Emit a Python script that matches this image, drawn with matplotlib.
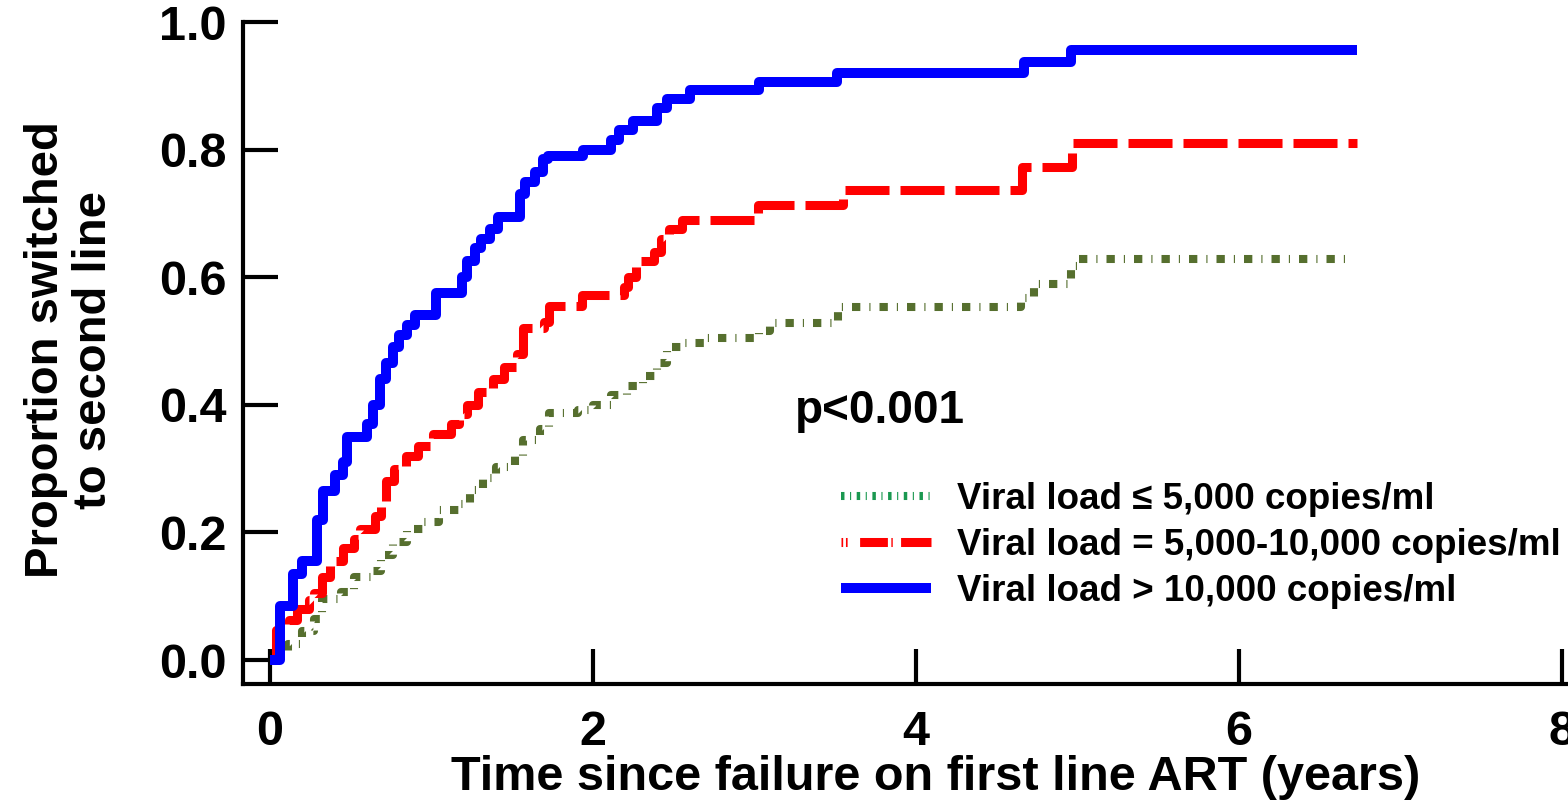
import matplotlib
matplotlib.use("Agg")
import matplotlib.pyplot as plt
from matplotlib.lines import Line2D

plt.rcParams['font.family'] = ['Liberation Sans', 'DejaVu Sans']
plt.rcParams['font.weight'] = 'bold'
plt.rcParams['lines.scale_dashes'] = False

# Kaplan-Meier style cumulative proportion switched (step points)
t_high = [0.0, 0.06, 0.14, 0.20, 0.29, 0.33, 0.40, 0.45, 0.48, 0.60, 0.64, 0.68, 0.72,
          0.76, 0.80, 0.85, 0.90, 1.03, 1.19, 1.22, 1.27, 1.31, 1.36, 1.41, 1.55, 1.58,
          1.64, 1.69, 1.72, 1.94, 2.11, 2.16, 2.25, 2.40, 2.46, 2.60, 3.03, 3.51, 4.67,
          4.96, 6.73]
p_high = [0.0, 0.085, 0.135, 0.155, 0.22, 0.265, 0.29, 0.31, 0.35, 0.37, 0.40, 0.44, 0.465,
          0.49, 0.51, 0.525, 0.54, 0.575, 0.60, 0.625, 0.645, 0.66, 0.675, 0.695, 0.73, 0.75,
          0.765, 0.785, 0.79, 0.80, 0.815, 0.83, 0.845, 0.865, 0.88, 0.893, 0.906, 0.92, 0.937,
          0.956, 0.956]

t_mid = [0.0, 0.04, 0.12, 0.17, 0.24, 0.27, 0.32, 0.37, 0.45, 0.52, 0.56, 0.65, 0.69, 0.72,
         0.77, 0.84, 0.92, 1.01, 1.12, 1.17, 1.22, 1.29, 1.38, 1.45, 1.53, 1.57, 1.70, 1.73,
         1.93, 2.19, 2.22, 2.27, 2.38, 2.42, 2.47, 2.55, 3.02, 3.55, 4.66, 4.97, 6.73]
p_mid = [0.0, 0.047, 0.063, 0.08, 0.094, 0.105, 0.13, 0.155, 0.175, 0.19, 0.205, 0.225, 0.25,
         0.28, 0.30, 0.32, 0.335, 0.355, 0.37, 0.385, 0.40, 0.42, 0.44, 0.46, 0.48, 0.52, 0.53,
         0.555, 0.572, 0.585, 0.60, 0.625, 0.64, 0.66, 0.675, 0.69, 0.713, 0.737, 0.773, 0.81,
         0.81]

t_low = [0.0, 0.05, 0.11, 0.20, 0.27, 0.32, 0.44, 0.52, 0.63, 0.69, 0.76, 0.85, 0.95, 1.05,
         1.18, 1.24, 1.32, 1.40, 1.52, 1.57, 1.67, 1.73, 1.91, 2.00, 2.11, 2.21, 2.31, 2.40,
         2.46, 2.56, 2.70, 3.03, 3.10, 3.52, 4.65, 4.73, 4.96, 5.00, 6.69]
p_low = [0.0, 0.01, 0.025, 0.045, 0.065, 0.095, 0.107, 0.13, 0.14, 0.165, 0.185, 0.205, 0.216,
         0.235, 0.244, 0.267, 0.285, 0.303, 0.32, 0.345, 0.362, 0.387, 0.392, 0.40, 0.415, 0.43,
         0.445, 0.465, 0.49, 0.497, 0.505, 0.515, 0.528, 0.553, 0.568, 0.59, 0.618, 0.629, 0.629]

labels = ["Viral load \u2264 5,000 copies/ml",
          "Viral load = 5,000-10,000 copies/ml",
          "Viral load > 10,000 copies/ml"]

green = '#566f2e'
red = '#ff0000'
blue = '#0000ff'
green_dash = (0, (6.0, 6.5, 0.8, 6.5))
red_dash = (0, (31.7, 7.9))

fig = plt.figure(figsize=(15.68, 8.06), dpi=100)
ax = fig.add_axes([243 / 1568, 122 / 806, 1325 / 1568, 662 / 806])

ax.step(t_low, p_low, where='post', color=green, lw=5.8, linestyle=green_dash,
        dash_capstyle='butt')
ax.step(t_mid, p_mid, where='post', color=red, lw=6.5, linestyle=red_dash,
        dash_capstyle='butt')
ax.step(t_high, p_high, where='post', color=blue, lw=7.2, solid_capstyle='butt')

ax.set_xlim(-0.167, 8.04)
ax.set_ylim(-0.0376, 1.0)
ax.set_xticks([0, 2, 4, 6, 8])
ax.set_yticks([0.0, 0.2, 0.4, 0.6, 0.8, 1.0])
ax.set_yticklabels(['0.0', '0.2', '0.4', '0.6', '0.8', '1.0'])
for s in ['top', 'right']:
    ax.spines[s].set_visible(False)
for s in ['left', 'bottom']:
    ax.spines[s].set_linewidth(3)
ax.tick_params(direction='in', length=25, width=3, labelsize=35, pad=12)
ax.tick_params(axis='x', pad=19)

ax.text(3.25, 0.39, 'p<0.001', fontsize=33, fontweight='bold', ha='left', va='center')

handles = [Line2D([], [], color='#1a9850', lw=5.8, linestyle=(0, (2.5, 4.0, 0.8, 4.0)),
                  dash_capstyle='butt'),
           Line2D([], [], color=red, lw=6.5, linestyle=(0, (1.2, 2.0, 1.2, 9.0, 20, 2.5, 1.0, 6.0, 30)),
                  dash_capstyle='butt'),
           Line2D([], [], color=blue, lw=7.2, solid_capstyle='butt')]
leg = ax.legend(handles, labels, loc='upper left', bbox_to_anchor=(841 / 1568, 1 - 482 / 806),
                bbox_transform=fig.transFigure, frameon=False, borderpad=0, borderaxespad=0,
                handlelength=2.45, handletextpad=0.7, labelspacing=0.30,
                prop=dict(family=['Liberation Sans'], weight='bold', size=26.5))

fig.text(936 / 1568, 1 - 778 / 806, 'Time since failure on first line ART (years)',
         fontsize=35, fontweight='bold', ha='center', va='center')
fig.text(70 / 1568, 1 - 350 / 806, 'Proportion switched\nto second line', fontsize=34,
         fontweight='bold', ha='center', va='center', rotation=90, multialignment='center',
         linespacing=1.1)

fig.savefig('out.png', dpi=100)
